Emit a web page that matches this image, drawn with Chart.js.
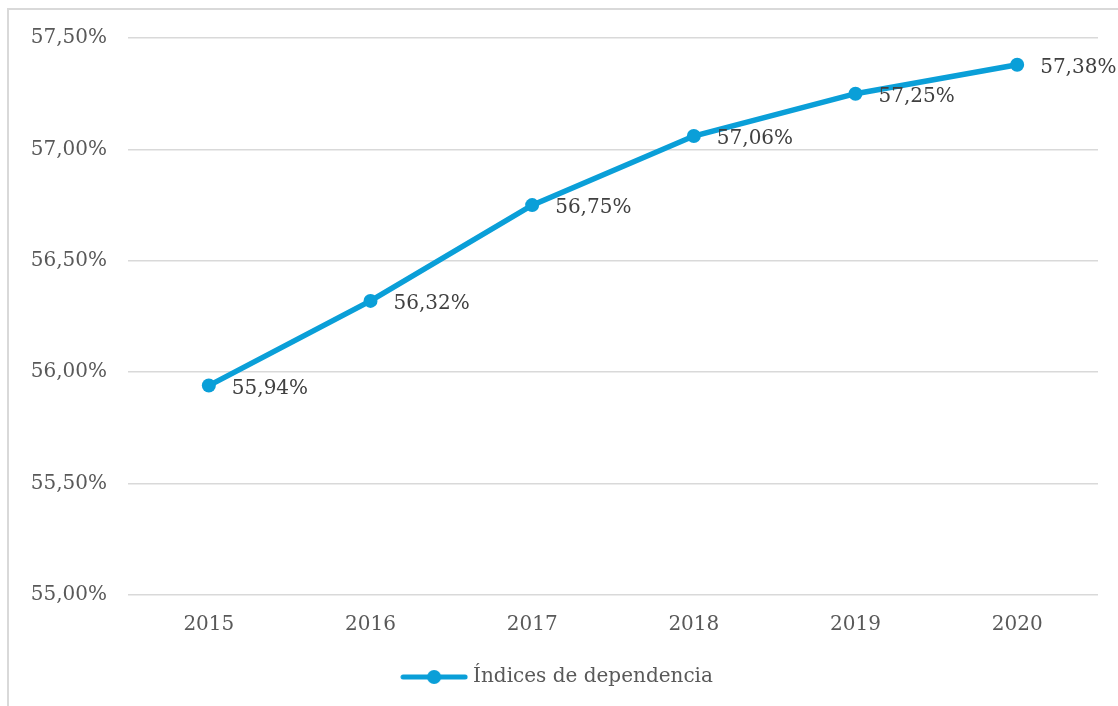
<!DOCTYPE html>
<html>
<head>
<meta charset="utf-8">
<script src="https://cdn.jsdelivr.net/npm/chart.js@4.4.0/dist/chart.umd.min.js"></script>
<style>
  body { margin: 0; background: #fff; }
  #frame { position: absolute; left: 7px; top: 8px; width: 1130px; height: 720px; border: 2px solid #d9d9d9; }
  #wrap { position: absolute; left: 0; top: 0; width: 1118px; height: 706px; }
</style>
</head>
<body>
<div id="frame"></div>
<div id="wrap"><canvas id="chart"></canvas></div>
<script>
const years = ['2015', '2016', '2017', '2018', '2019', '2020'];
const dependencia = [55.94, 56.32, 56.75, 57.06, 57.25, 57.38];
const seriesName = 'Índices de dependencia';

const blue = '#0a9fd8';
const grey = '#595959';
const fontFamily = '"DejaVu Serif", serif';

function pct(v) {
    return v.toFixed(2).replace('.', ',') + '%';
}

// legend marker: line with a dot
const marker = document.createElement('canvas');
marker.width = 68;
marker.height = 16;
var mctx = marker.getContext('2d');
mctx.strokeStyle = blue;
mctx.lineWidth = 5;
mctx.lineCap = 'round';
mctx.beginPath();
mctx.moveTo(3, 8);
mctx.lineTo(65, 8);
mctx.stroke();
mctx.fillStyle = blue;
mctx.beginPath();
mctx.arc(34, 8, 7, 0, Math.PI * 2);
mctx.fill();

const valueLabels = {
    id: 'valueLabels',
    afterDatasetsDraw(chart) {
        const ctx = chart.ctx;
        const meta = chart.getDatasetMeta(0);
        ctx.save();
        ctx.font = '20px ' + fontFamily;
        ctx.fillStyle = '#404040';
        ctx.textAlign = 'left';
        ctx.textBaseline = 'middle';
        meta.data.forEach(function(pt, i) {
            ctx.fillText(pct(dependencia[i]), pt.x + 23, pt.y + 3);
        });
        ctx.restore();
    }
};

new Chart(document.getElementById('chart'), {
    type: 'line',
    data: {
        labels: years,
        datasets: [{
            label: seriesName,
            data: dependencia,
            borderColor: blue,
            backgroundColor: blue,
            borderWidth: 5.5,
            pointStyle: 'circle',
            pointRadius: 7,
            pointHoverRadius: 7,
            pointBackgroundColor: blue,
            pointBorderWidth: 0,
            tension: 0
        }]
    },
    options: {
        responsive: true,
        maintainAspectRatio: false,
        animation: false,
        layout: { padding: { left: 20, right: 20, top: 38, bottom: 9 } },
        scales: {
            x: {
                offset: true,
                grid: { display: false },
                border: { display: false },
                ticks: { color: grey, font: { family: fontFamily, size: 20 }, padding: 10 }
            },
            y: {
                min: 55,
                max: 57.5,
                grid: { color: '#d9d9d9', lineWidth: 1.5, drawTicks: false },
                border: { display: false },
                afterFit: function(scale) {
                    scale.width = 108;
                    scale.paddingTop = 0;
                    scale.paddingBottom = 0;
                },
                ticks: {
                    stepSize: 0.5,
                    padding: 21,
                    color: grey,
                    font: { family: fontFamily, size: 20 },
                    callback: function(v) { return pct(v); }
                }
            }
        },
        plugins: {
            tooltip: { enabled: false },
            legend: {
                position: 'bottom',
                labels: {
                    usePointStyle: true,
                    pointStyleWidth: 58,
                    boxHeight: 16,
                    color: grey,
                    font: { family: fontFamily, size: 20 },
                    padding: 20,
                    generateLabels: function(chart) {
                        return [{
                            text: seriesName,
                            fillStyle: blue,
                            strokeStyle: blue,
                            lineWidth: 0,
                            pointStyle: marker,
                            fontColor: grey,
                            datasetIndex: 0
                        }];
                    }
                }
            }
        }
    },
    plugins: [valueLabels]
});
</script>
</body>
</html>
